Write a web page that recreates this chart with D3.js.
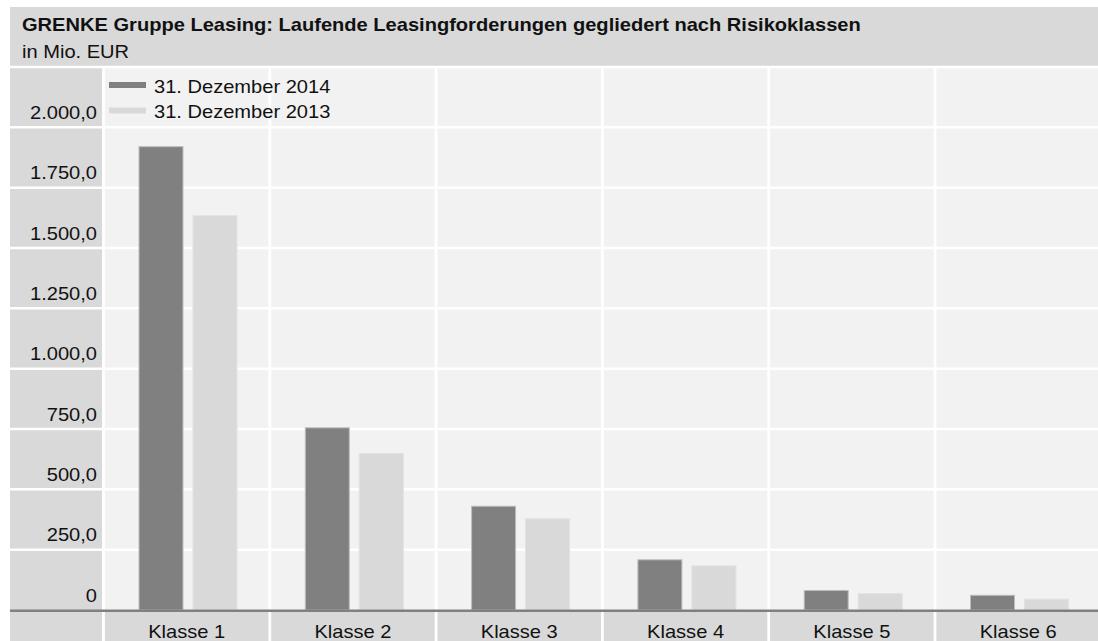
<!DOCTYPE html>
<html><head><meta charset="utf-8">
<script src="https://cdn.jsdelivr.net/npm/d3@7"></script>
<style>
html,body{margin:0;padding:0;background:#fff;}
svg{display:block;font-family:"Liberation Sans",Arial,sans-serif;}
</style></head>
<body><svg id="c" width="1098" height="641"></svg>
<script>
const title = "GRENKE Gruppe Leasing: Laufende Leasingforderungen gegliedert nach Risikoklassen";
const subtitle = "in Mio. EUR";
const categories = ["Klasse 1","Klasse 2","Klasse 3","Klasse 4","Klasse 5","Klasse 6"];
const seriesNames = ["31. Dezember 2014","31. Dezember 2013"];
const values2014 = [1922, 757, 432, 210, 83, 63];
const values2013 = [1636, 650, 380, 185, 70, 47];
const tickValues = [0, 250, 500, 750, 1000, 1250, 1500, 1750, 2000];
const tickLabels = ["0","250,0","500,0","750,0","1.000,0","1.250,0","1.500,0","1.750,0","2.000,0"];

const colors = ["#808080","#d9d9d9"];
const strokes = ["#bdbdbd","#e2e2e2"];
const FS = 18.6, SX = 1.08;
const svg = d3.select("#c");
const W = 1098, H = 641;
const left = 10, plotL = 103.5, plotR = 1101.3;
const y = d3.scaleLinear().domain([0, 2250]).range([610, 67]);
const x0 = d3.scaleBand().domain(categories).range([plotL, plotR]).paddingInner(0).paddingOuter(0);
const x1 = d3.scaleBand().domain(seriesNames).range([35, 134]).paddingInner(0.1667).paddingOuter(0);

function stretchedText(parent, x, yy, txt, bold) {
  return parent.append("text").attr("transform", `translate(${x},${yy}) scale(${SX},1)`)
    .attr("font-size", FS).attr("font-weight", bold ? "bold" : null).attr("fill", "#111").text(txt);
}

// header
svg.append("rect").attr("x", left).attr("y", 7).attr("width", W - left).attr("height", 59).attr("fill", "#d9d9d9");
stretchedText(svg, 22, 31, title, true);
stretchedText(svg, 22, 58, subtitle, false);

// y-axis column
svg.append("rect").attr("x", left).attr("y", y(2250)).attr("width", plotL - left).attr("height", y(0) - y(2250)).attr("fill", "#d9d9d9");
// plot area
svg.append("rect").attr("x", plotL).attr("y", y(2250)).attr("width", plotR - plotL).attr("height", y(0) - y(2250)).attr("fill", "#f2f2f2");
// x-axis band
svg.append("rect").attr("x", left).attr("y", y(0)).attr("width", W - left).attr("height", H - y(0)).attr("fill", "#d9d9d9");

// horizontal gridlines
const gridVals = tickValues.slice(1).concat([2250]);
svg.append("g").selectAll("line").data(gridVals).join("line")
  .attr("x1", left).attr("x2", W).attr("y1", d => y(d)).attr("y2", d => y(d))
  .attr("stroke", "#fff").attr("stroke-width", 2.5);

// vertical separators
const bounds = categories.map(c => x0(c));
svg.append("g").selectAll("line").data(bounds).join("line")
  .attr("x1", d => d).attr("x2", d => d).attr("y1", y(2250)).attr("y2", H)
  .attr("stroke", "#fff").attr("stroke-width", 2.8);

// y tick labels
const yAxis = d3.axisLeft(y).tickValues(tickValues).tickFormat((d, i) => tickLabels[i]).tickSize(0).tickPadding(0);
const gy = svg.append("g").attr("transform", `translate(97,0)`).call(yAxis);
gy.select(".domain").remove();
gy.selectAll("text").attr("font-size", FS).attr("fill", "#111").attr("font-family", "Liberation Sans, Arial, sans-serif")
  .attr("dy", null).attr("x", null).attr("y", null).attr("transform", `translate(0,-9) scale(${SX},1)`);

// bars
const data = categories.map((c, i) => ({cat: c, vals: [values2014[i], values2013[i]]}));
const groups = svg.append("g").selectAll("g").data(data).join("g").attr("transform", d => `translate(${x0(d.cat)},0)`);
groups.selectAll("rect").data(d => d.vals.map((v, j) => ({v, j}))).join("rect")
  .attr("x", d => x1(seriesNames[d.j]) + 0.5).attr("width", x1.bandwidth() - 1)
  .attr("y", d => y(d.v) + 0.5).attr("height", d => y(0) - y(d.v) - 0.5)
  .attr("fill", d => colors[d.j]).attr("stroke", d => strokes[d.j]).attr("stroke-width", 1);

// baseline
svg.append("line").attr("x1", left).attr("x2", W).attr("y1", y(0) + 0.8).attr("y2", y(0) + 0.8).attr("stroke", "#808080").attr("stroke-width", 2.6);

// x labels
const xAxis = d3.axisBottom(x0).tickSize(0).tickPadding(0);
const gx = svg.append("g").attr("transform", `translate(0,638)`).call(xAxis);
gx.select(".domain").remove();
gx.selectAll("text").attr("font-size", FS).attr("fill", "#111").attr("font-family", "Liberation Sans, Arial, sans-serif")
  .attr("dy", null).attr("y", null).attr("transform", `scale(${SX},1)`);

// legend
const lg = svg.append("g");
seriesNames.forEach((s, i) => {
  lg.append("rect").attr("x", 109).attr("y", 82 + i * 25.5).attr("width", 37).attr("height", 6).attr("fill", colors[i]);
  stretchedText(lg, 154, 92.7 + i * 25.5, s, false);
});
</script></body></html>
